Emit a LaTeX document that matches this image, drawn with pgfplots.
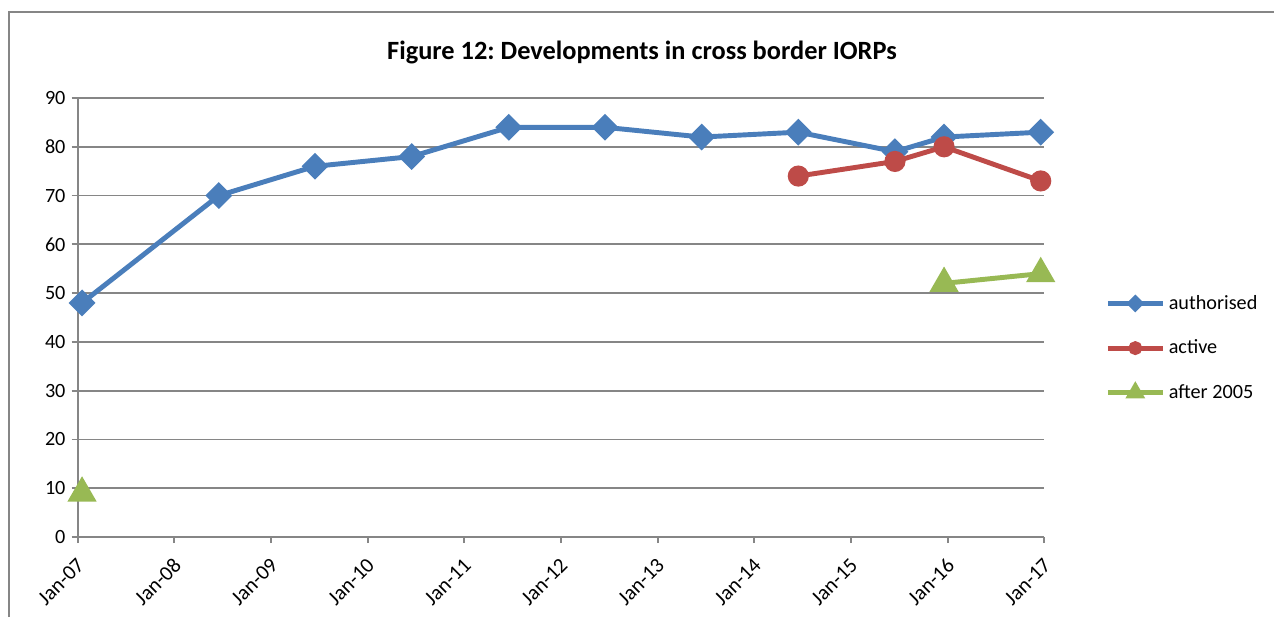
\documentclass[border=0pt]{standalone}
\usepackage{pgfplots}
\pgfplotsset{compat=1.18}
\usepackage{pgfplotstable}
\usepackage{fontspec}
\setmainfont{Carlito}
\definecolor{xlblue}{HTML}{4A7EBB}
\definecolor{xlred}{HTML}{BE4B48}
\definecolor{xlgreen}{HTML}{98B954}
\definecolor{xlgrid}{HTML}{868686}

% x = years since Jan 2007
\pgfplotstableread{
x y
0.045 48
1.46 70
2.455 76
3.455 78
4.46 84
5.455 84
6.455 82
7.455 83
8.455 79
8.963 82
9.963 83
}\tblauthorised
\pgfplotstableread{
x y
7.455 74
8.455 77
8.963 80
9.963 73
}\tblactive
\pgfplotstableread{
x y
0.045 9
4.0 nan
8.963 52
9.963 54
}\tblafter

\begin{document}
\frenchspacing
\begin{tikzpicture}
\path[use as bounding box] (0,0) rectangle (25.48,12.34);
\draw[xlgrid, line width=1pt] (0.18,0) -- (0.18,12.10) -- (25.48,12.10);
\node[font=\fontsize{15}{17}\selectfont\bfseries] at (12.84,11.30) {Figure 12: Developments in cross border IORPs};
\begin{axis}[
    at={(1.554cm,1.60cm)}, anchor=south west,
    scale only axis,
    width=19.332cm, height=8.78cm,
    xmin=0, xmax=10, ymin=0, ymax=90,
    axis x line*=bottom, axis y line*=left,
    axis line style={xlgrid, line width=1pt, -},
    xtick={0,1,...,10},
    xticklabels={Jan-07,Jan-08,Jan-09,Jan-10,Jan-11,Jan-12,Jan-13,Jan-14,Jan-15,Jan-16,Jan-17},
    ytick={0,10,...,90},
    tick align=outside, major tick length=0.12cm,
    tick style={xlgrid, line width=1pt},
    ymajorgrids, grid style={xlgrid, line width=1pt},
    /pgf/number format/assume math mode=true,
    yticklabel style={font=\fontsize{11.5}{13}\selectfont},
    xticklabel style={font=\fontsize{12}{14}\selectfont, inner sep=1pt,
        xshift=0.09cm, yshift=-0.35cm, rotate=45, anchor=east},
    unbounded coords=jump,
    clip=false,
    legend cell align=left,
    legend style={at={(axis description cs:1.0628,0.4305)}, anchor=west,
        draw=none, fill=none, inner sep=0pt, row sep=0.42cm,
        font=\fontsize{11.5}{13}\selectfont},
    legend image code/.code={
        \draw[#1, mark repeat=2, mark phase=2, every mark/.append style={scale=0.55}]
        plot coordinates {(0cm,0cm) (0.55cm,0cm) (1.1cm,0cm)};},
]
\addplot[xlblue, line width=2.8pt, mark=square*, mark size=4pt,
    mark options={rotate=45, solid}] table {\tblauthorised};
\addlegendentry{authorised}
\addplot[xlred, line width=2.8pt, mark=*, mark size=4.6pt] table {\tblactive};
\addlegendentry{active}
\addplot[xlgreen, line width=2.8pt, mark=triangle*, mark size=6.8pt] table {\tblafter};
\addlegendentry{after 2005}
\end{axis}
\end{tikzpicture}
\end{document}
